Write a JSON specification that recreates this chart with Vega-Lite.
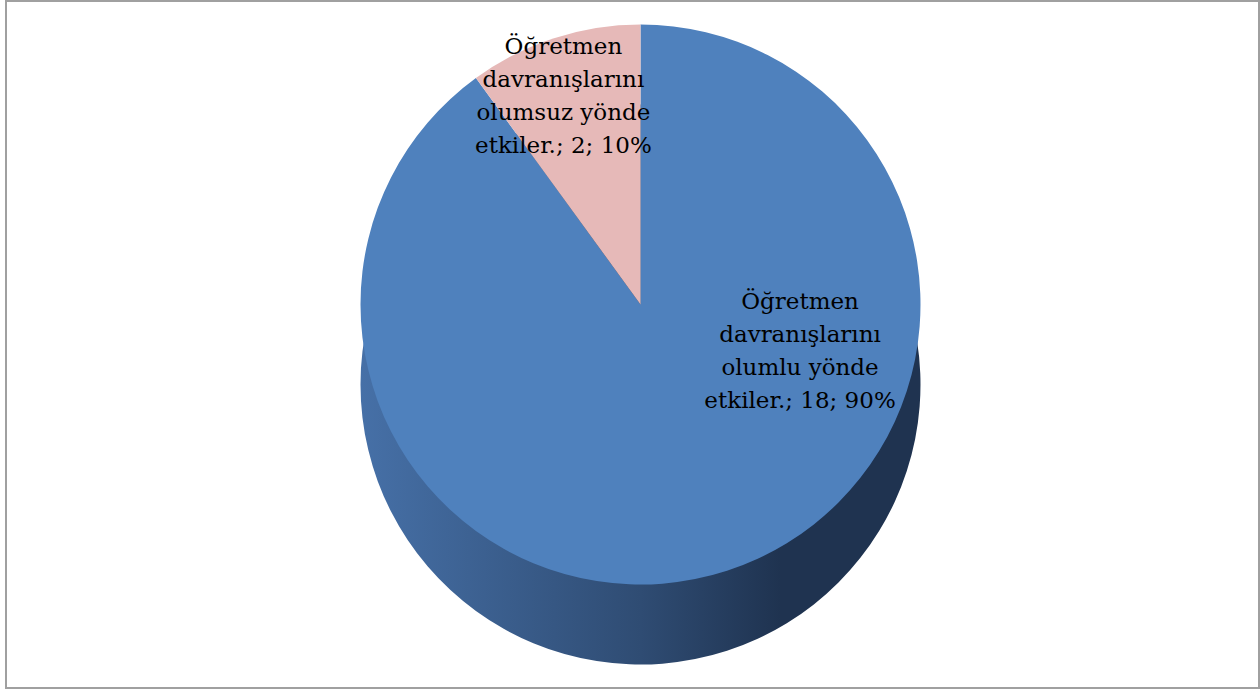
{
  "$schema": "https://vega.github.io/schema/vega-lite/v6.json",
  "width": 1260,
  "height": 689,
  "autosize": {"type": "fit", "contains": "padding"},
  "padding": {"left": 6, "top": 1, "right": 1, "bottom": 1},
  "background": "#ffffff",
  "view": {"stroke": "#a0a0a0", "strokeWidth": 2},
  "config": {"view": {"stroke": "#a0a0a0", "strokeWidth": 2}},
  "data": {
    "values": [
      {"sira": 1, "kategori": "Öğretmen\ndavranışlarını\nolumlu yönde\netkiler.", "deger": 18},
      {"sira": 2, "kategori": "Öğretmen\ndavranışlarını\nolumsuz yönde\netkiler.", "deger": 2}
    ]
  },
  "transform": [
    {"joinaggregate": [{"op": "sum", "field": "deger", "as": "toplam"}]},
    {"calculate": "datum.kategori + '; ' + datum.deger + '; ' + format(datum.deger / datum.toplam, '.0%')", "as": "etiket"}
  ],
  "encoding": {
    "theta": {"field": "deger", "type": "quantitative", "stack": true},
    "order": {"field": "sira", "type": "ordinal"}
  },
  "layer": [
    {
      "mark": {
        "type": "arc",
        "outerRadius": 280,
        "xOffset": 8,
        "yOffset": 40,
        "fill": {
          "gradient": "linear",
          "x1": 0, "y1": 0, "x2": 1, "y2": 0,
          "stops": [
            {"offset": 0, "color": "#4670a7"},
            {"offset": 0.5, "color": "#2f4c73"},
            {"offset": 0.75, "color": "#1f3350"},
            {"offset": 1, "color": "#1f3350"}
          ]
        }
      }
    },
    {
      "mark": {"type": "arc", "outerRadius": 280, "xOffset": 8, "yOffset": -40},
      "encoding": {
        "color": {
          "field": "sira",
          "type": "nominal",
          "scale": {"domain": [1, 2], "range": ["#4f81bd", "#e6b9b8"]},
          "legend": null
        }
      }
    },
    {
      "mark": {
        "type": "text",
        "radius": 60,
        "xOffset": 8,
        "yOffset": -40,
        "dx": 141,
        "dy": -60,
        "font": "DejaVu Serif",
        "fontSize": 23,
        "lineHeight": 33,
        "lineBreak": "\n",
        "align": "center",
        "baseline": "middle",
        "color": "#000000"
      },
      "encoding": {
        "text": {"condition": {"test": "datum.sira == 1", "field": "etiket"}, "value": ""}
      }
    },
    {
      "mark": {
        "type": "text",
        "radius": 230,
        "xOffset": 8,
        "yOffset": -40,
        "dx": -6,
        "dy": -39,
        "font": "DejaVu Serif",
        "fontSize": 23,
        "lineHeight": 33,
        "lineBreak": "\n",
        "align": "center",
        "baseline": "middle",
        "color": "#000000"
      },
      "encoding": {
        "text": {"condition": {"test": "datum.sira == 2", "field": "etiket"}, "value": ""}
      }
    }
  ]
}
